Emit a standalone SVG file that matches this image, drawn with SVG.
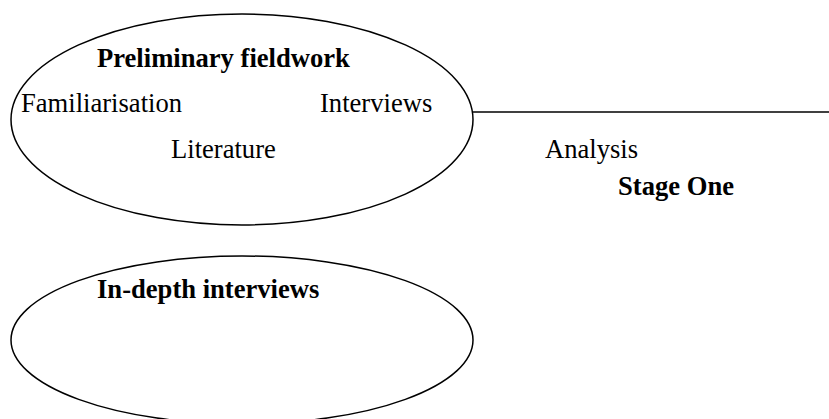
<svg xmlns="http://www.w3.org/2000/svg" width="829" height="419" viewBox="0 0 829 419">
<style>
.shape{fill:none;stroke:#000;stroke-width:1.5}
.t{font-family:"Liberation Serif","Times New Roman",serif;font-size:26.6px;fill:#000}
.b{font-weight:bold}
</style>
<rect width="829" height="419" fill="#fff"/>
<g id="connectors">
<line class="shape" x1="473" y1="112" x2="829" y2="112"/>
</g>
<g id="preliminary">
<ellipse class="shape" cx="242" cy="119.5" rx="231" ry="105.5"/>
<text class="t b" x="97" y="67">Preliminary fieldwork</text>
<text class="t" x="21" y="112">Familiarisation</text>
<text class="t" x="320" y="112">Interviews</text>
<text class="t" x="171" y="158">Literature</text>
</g>
<g id="analysis">
<text class="t" x="545" y="158">Analysis</text>
<text class="t b" x="618" y="195">Stage One</text>
</g>
<g id="indepth">
<ellipse class="shape" cx="242" cy="340" rx="231" ry="84"/>
<text class="t b" x="97" y="298">In-depth interviews</text>
</g>
</svg>
